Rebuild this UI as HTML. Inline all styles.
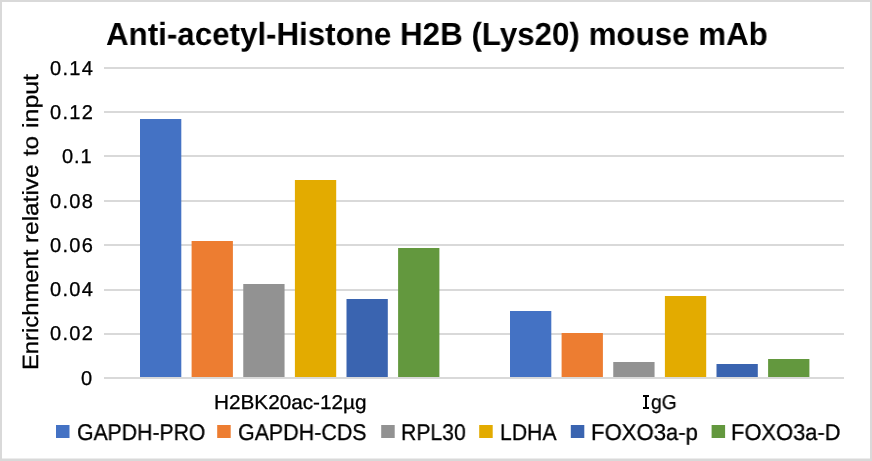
<!DOCTYPE html>
<html><head><meta charset="utf-8"><style>
html,body{margin:0;padding:0;background:#fff;}
body{width:872px;height:461px;position:relative;overflow:hidden;font-family:"Liberation Sans",sans-serif;color:#000;}
.frame{position:absolute;left:0;top:0;width:868px;height:457px;border:2px solid #d9d9d9;}
.t{text-rendering:geometricPrecision;position:absolute;white-space:nowrap;line-height:1;transform-origin:0 0;will-change:transform;-webkit-text-stroke:0.3px #000;}
svg{position:absolute;left:0;top:0;}
</style></head><body>
<div class="frame"></div>
<div style="position:absolute;left:2px;top:458px;width:868px;height:1px;background:#ececec"></div>
<svg width="872" height="461" viewBox="0 0 872 461">
<g fill="#d9d9d9" shape-rendering="crispEdges">
<rect x="104" y="67" width="740" height="2"/>
<rect x="104" y="111" width="740" height="2"/>
<rect x="104" y="155" width="740" height="2"/>
<rect x="104" y="200" width="740" height="2"/>
<rect x="104" y="244" width="740" height="2"/>
<rect x="104" y="289" width="740" height="2"/>
<rect x="104" y="333" width="740" height="2"/>
<rect x="104" y="377" width="740" height="2"/>
</g>
<rect x="140" y="119" width="41.3" height="258" fill="#4472C4"/>
<rect x="191.6" y="241" width="41.3" height="136" fill="#ED7D31"/>
<rect x="243.25" y="284" width="41.3" height="93" fill="#929292"/>
<rect x="294.9" y="180" width="41.3" height="197" fill="#E3AB00"/>
<rect x="346.5" y="299" width="41.3" height="78" fill="#3A64B0"/>
<rect x="398.1" y="248" width="41.3" height="129" fill="#63983E"/>
<rect x="510" y="311" width="41.3" height="66" fill="#4472C4"/>
<rect x="561.6" y="333" width="41.3" height="44" fill="#ED7D31"/>
<rect x="613.25" y="362" width="41.3" height="15" fill="#929292"/>
<rect x="664.9" y="296" width="41.3" height="81" fill="#E3AB00"/>
<rect x="716.5" y="364" width="41.3" height="13" fill="#3A64B0"/>
<rect x="768.1" y="359" width="41.3" height="18" fill="#63983E"/>
<rect x="56" y="425" width="13.5" height="13" fill="#4472C4"/>
<rect x="217.2" y="425" width="13.5" height="13" fill="#ED7D31"/>
<rect x="381.2" y="425" width="13.5" height="13" fill="#929292"/>
<rect x="479.2" y="425" width="13.5" height="13" fill="#E3AB00"/>
<rect x="570.8" y="425" width="13.5" height="13" fill="#3A64B0"/>
<rect x="711.6" y="425" width="13.5" height="13" fill="#63983E"/>
</svg>
<div class="t" id="title" style="-webkit-text-stroke:0;left:105.52px;top:18px;font-size:32px;font-weight:bold;transform:scaleX(0.9785);">Anti-acetyl-Histone H2B (Lys20) mouse mAb</div>
<div class="t yl" style="left:50.2px;top:58.70px;font-size:20px;letter-spacing:1.33px;">0.14</div>
<div class="t yl" style="left:50.2px;top:102.99px;font-size:20px;letter-spacing:1.33px;">0.12</div>
<div class="t yl" style="left:62.2px;top:147.27px;font-size:20px;letter-spacing:0.85px;">0.1</div>
<div class="t yl" style="left:50.2px;top:191.56px;font-size:20px;letter-spacing:1.33px;">0.08</div>
<div class="t yl" style="left:50.2px;top:235.84px;font-size:20px;letter-spacing:1.33px;">0.06</div>
<div class="t yl" style="left:50.2px;top:280.13px;font-size:20px;letter-spacing:1.33px;">0.04</div>
<div class="t yl" style="left:50.2px;top:324.41px;font-size:20px;letter-spacing:1.33px;">0.02</div>
<div class="t yl" style="left:81.4px;top:368.70px;font-size:20px;letter-spacing:0px;">0</div>
<div class="t yt" style="left:20px;top:370.46px;font-size:22px;transform:rotate(-90deg) scaleX(1.0807);">Enrichment</div>
<div class="t yt" style="left:20px;top:242.51px;font-size:22px;transform:rotate(-90deg) scaleX(1.1072);">relative</div>
<div class="t yt" style="left:20px;top:155.5px;font-size:22px;transform:rotate(-90deg) scaleX(1.088);">to</div>
<div class="t yt" style="left:20px;top:128.43px;font-size:22px;transform:rotate(-90deg) scaleX(1.1326);">input</div>
<div class="t" id="c1" style="left:213.93px;top:392.70px;font-size:20px;transform:scaleX(1.036);">H2BK20ac-12µg</div>
<div style="position:absolute;left:643px;top:394.8px;width:6.2px;height:2px;background:#000"></div>
<div style="position:absolute;left:645px;top:394.8px;width:2.1px;height:13.9px;background:#000"></div>
<div style="position:absolute;left:643px;top:406.7px;width:6.2px;height:2px;background:#000"></div>
<div class="t" id="c2" style="left:651.43px;top:392.70px;font-size:20px;transform:scaleX(0.967);">gG</div>
<div class="t lg" style="left:76.65px;top:420.6px;font-size:22.75px;transform:scaleX(0.9316);">GAPDH-PRO</div>
<div class="t lg" style="left:238.45px;top:420.6px;font-size:22.75px;transform:scaleX(0.9415);">GAPDH-CDS</div>
<div class="t lg" style="left:401.14px;top:420.6px;font-size:22.75px;transform:scaleX(0.9299);">RPL30</div>
<div class="t lg" style="left:500.14px;top:420.6px;font-size:22.75px;transform:scaleX(0.9322);">LDHA</div>
<div class="t lg" style="left:590.86px;top:420.6px;font-size:22.75px;transform:scaleX(0.9729);">FOXO3a-p</div>
<div class="t lg" style="left:731.48px;top:420.6px;font-size:22.75px;transform:scaleX(0.9631);">FOXO3a-D</div>
</body></html>
